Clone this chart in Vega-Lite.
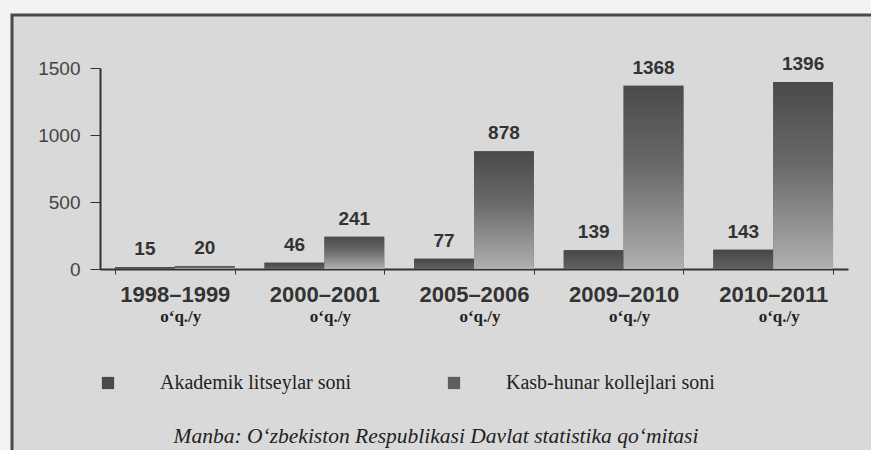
{
  "$schema": "https://vega.github.io/schema/vega-lite/v6.json",
  "width": 870,
  "height": 450,
  "autosize": {"type": "none"},
  "padding": {"left": 12, "top": 15, "right": 0, "bottom": 0},
  "background": "#f3f3f3",
  "config": {
    "view": {"fill": "#d9d9d9", "stroke": "#4a4a4a", "strokeWidth": 3}
  },
  "datasets": {
    "main": [
      {"year": "1998–1999", "series": "Akademik litseylar soni", "value": 15},
      {"year": "1998–1999", "series": "Kasb-hunar kollejlari soni", "value": 20},
      {"year": "2000–2001", "series": "Akademik litseylar soni", "value": 46},
      {"year": "2000–2001", "series": "Kasb-hunar kollejlari soni", "value": 241},
      {"year": "2005–2006", "series": "Akademik litseylar soni", "value": 77},
      {"year": "2005–2006", "series": "Kasb-hunar kollejlari soni", "value": 878},
      {"year": "2009–2010", "series": "Akademik litseylar soni", "value": 139},
      {"year": "2009–2010", "series": "Kasb-hunar kollejlari soni", "value": 1368},
      {"year": "2010–2011", "series": "Akademik litseylar soni", "value": 143},
      {"year": "2010–2011", "series": "Kasb-hunar kollejlari soni", "value": 1396}
    ],
    "source": [
      {"note": "Manba: O‘zbekiston Respublikasi Davlat statistika qo‘mitasi"}
    ]
  },
  "data": {"name": "main"},
  "encoding": {
    "x": {
      "field": "year",
      "type": "nominal",
      "sort": null,
      "scale": {"range": [88, 836], "paddingInner": 0.2, "paddingOuter": 0.1},
      "axis": {
        "title": null,
        "orient": "bottom",
        "offset": -196,
        "labelAngle": 0,
        "labelFont": "Liberation Sans",
        "labelFontWeight": "bold",
        "labelFontSize": 22,
        "labelColor": "#333333",
        "labelPadding": 10,
        "labelDx": 6,
        "tickBand": "extent",
        "tickSize": 5,
        "tickColor": "#333333",
        "domainColor": "#333333",
        "domainWidth": 2
      }
    }
  },
  "layer": [
    {
      "mark": {"type": "bar"},
      "encoding": {
        "xOffset": {"field": "series", "type": "nominal", "scale": {"domain": ["Akademik litseylar soni", "Kasb-hunar kollejlari soni"], "paddingInner": 0}},
        "y": {
          "field": "value",
          "type": "quantitative",
          "scale": {"domain": [0, 1500], "range": [254, 53], "nice": false},
          "axis": {
            "title": null,
            "offset": -88,
            "values": [0, 500, 1000, 1500],
            "format": "d",
            "grid": false,
            "labelFont": "Liberation Sans",
            "labelFontSize": 19,
            "labelColor": "#444444",
            "labelPadding": 10,
            "tickSize": 10,
            "tickColor": "#333333",
            "domainColor": "#333333",
            "domainWidth": 2
          }
        },
        "color": {
          "field": "series",
          "type": "nominal",
          "scale": {"domain": ["Akademik litseylar soni", "Kasb-hunar kollejlari soni"], "range": ["#4a4a4a", "#5e5e5e"]},
          "legend": {
            "title": null,
            "orient": "none",
            "direction": "horizontal",
            "legendX": 86,
            "legendY": 358,
            "symbolType": "square",
            "symbolSize": 150,
            "symbolStrokeWidth": 0,
            "labelFont": "Liberation Serif",
            "labelFontSize": 20,
            "labelColor": "#222222",
            "labelOffset": 42,
            "labelLimit": 400,
            "columnPadding": 92
          }
        }
      }
    },
    {
      "transform": [{"filter": "datum.series === 'Akademik litseylar soni'"}],
      "mark": {
        "type": "bar",
        "color": {"gradient": "linear", "x1": 0, "y1": 0, "x2": 0, "y2": 1,
          "stops": [{"offset": 0, "color": "#474747"}, {"offset": 1, "color": "#626262"}]}
      },
      "encoding": {
        "xOffset": {"field": "series", "type": "nominal"},
        "y": {"field": "value", "type": "quantitative"}
      }
    },
    {
      "transform": [{"filter": "datum.series === 'Kasb-hunar kollejlari soni'"}],
      "mark": {
        "type": "bar",
        "color": {"gradient": "linear", "x1": 0, "y1": 0, "x2": 0, "y2": 1,
          "stops": [{"offset": 0, "color": "#4a4a4a"}, {"offset": 0.45, "color": "#6a6a6a"}, {"offset": 1, "color": "#b0b0b0"}]}
      },
      "encoding": {
        "xOffset": {"field": "series", "type": "nominal"},
        "y": {"field": "value", "type": "quantitative"}
      }
    },
    {
      "mark": {"type": "text", "baseline": "bottom", "dy": -8, "font": "Liberation Sans", "fontWeight": "bold", "fontSize": 19, "color": "#333333"},
      "encoding": {
        "xOffset": {"field": "series", "type": "nominal"},
        "y": {"field": "value", "type": "quantitative"},
        "text": {"field": "value", "type": "quantitative"}
      }
    },
    {
      "transform": [{"filter": "datum.series === 'Akademik litseylar soni'"}],
      "mark": {"type": "text", "baseline": "middle", "dx": 6, "font": "Liberation Serif", "fontWeight": "bold", "fontSize": 17, "color": "#222222"},
      "encoding": {
        "y": {"datum": -358, "type": "quantitative"},
        "text": {"value": "o‘q./y"}
      }
    },
    {
      "data": {"name": "source"},
      "mark": {"type": "text", "baseline": "middle", "dx": -38, "font": "Liberation Serif", "fontStyle": "italic", "fontSize": 21.5, "color": "#222222"},
      "encoding": {
        "x": {"datum": "2005–2006"},
        "y": {"datum": -1254, "type": "quantitative"},
        "text": {"field": "note", "type": "nominal"}
      }
    }
  ]
}
